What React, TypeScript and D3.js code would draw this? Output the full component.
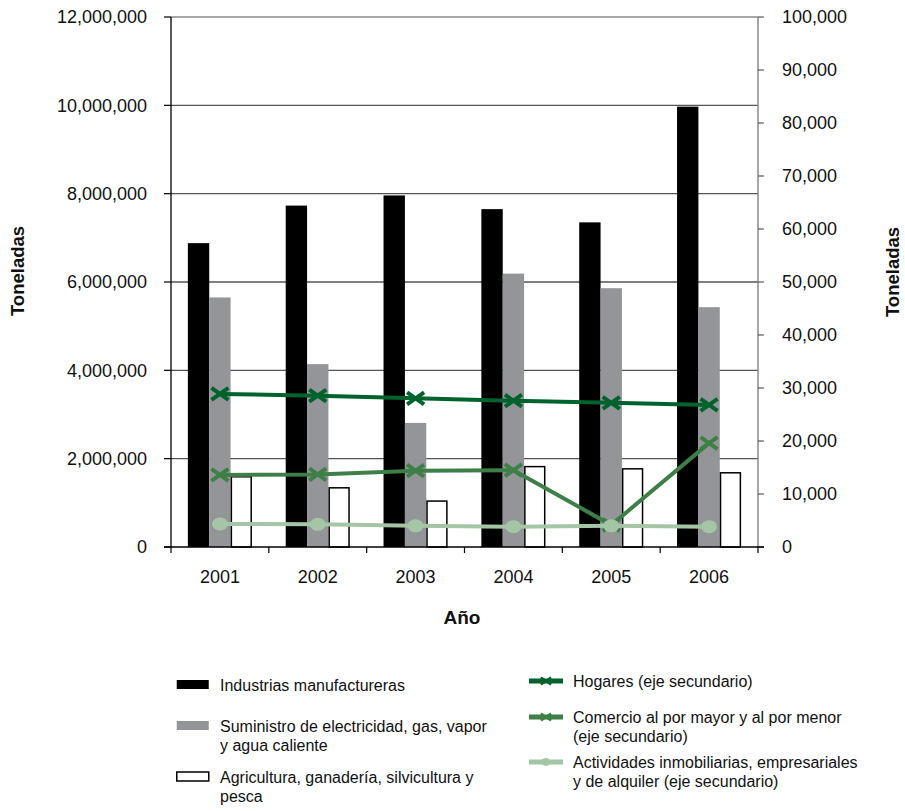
import React from "react";
import * as d3 from "d3";

const years = ["2001", "2002", "2003", "2004", "2005", "2006"];
const industrias = [6880000, 7730000, 7960000, 7650000, 7350000, 9970000];
const suministro = [5650000, 4140000, 2810000, 6190000, 5860000, 5430000];
const agricultura = [1590000, 1340000, 1040000, 1820000, 1770000, 1680000];
const hogares = [28870, 28550, 28050, 27600, 27200, 26800];
const comercio = [13600, 13700, 14400, 14500, 4150, 19600];
const actividades = [4340, 4280, 4000, 3830, 4000, 3830];
const leftTicks = [0, 2000000, 4000000, 6000000, 8000000, 10000000, 12000000];
const rightTicks = [0, 10000, 20000, 30000, 40000, 50000, 60000, 70000, 80000, 90000, 100000];

const barSeries = [
  { key: "ind", label: ["Industrias manufactureras"], values: industrias, fill: "#000000", stroke: "none" },
  { key: "sum", label: ["Suministro de electricidad, gas, vapor", "y agua caliente"], values: suministro, fill: "#939598", stroke: "none" },
  { key: "agr", label: ["Agricultura, ganadería, silvicultura y", "pesca"], values: agricultura, fill: "#ffffff", stroke: "#000000" },
];
const lineSeries = [
  { key: "hog", label: ["Hogares (eje secundario)"], values: hogares, color: "#00622c", marker: "x" },
  { key: "com", label: ["Comercio al por mayor y al por menor", "(eje secundario)"], values: comercio, color: "#3e7f48", marker: "x" },
  { key: "act", label: ["Actividades inmobiliarias, empresariales", "y de alquiler (eje secundario)"], values: actividades, color: "#a4c6a6", marker: "o" },
];

const FONT = "'Liberation Sans', Arial, sans-serif";

export default function App() {
  const L = 171, R = 758, T = 17, B = 547;
  const x = d3.scaleBand<string>().domain(years).range([L, R]).padding(0);
  const inner = d3.scaleBand<string>().domain(barSeries.map((s) => s.key)).range([0, x.bandwidth()]).paddingInner(0).paddingOuter(0.79);
  const yL = d3.scaleLinear().domain([0, 12000000]).range([B, T]);
  const yR = d3.scaleLinear().domain([0, 100000]).range([B, T]);
  const fmt = d3.format(",");
  const cx = (y: string) => (x(y) as number) + x.bandwidth() / 2;

  const marker = (m: string, color: string, px: number, py: number, k: string, scale = 1) =>
    m === "x" ? (
      <g key={k} stroke={color} strokeWidth={4 * scale} strokeLinecap="butt">
        <line x1={px - 8.5 * scale} y1={py - 6 * scale} x2={px + 8.5 * scale} y2={py + 6 * scale} />
        <line x1={px - 8.5 * scale} y1={py + 6 * scale} x2={px + 8.5 * scale} y2={py - 6 * scale} />
      </g>
    ) : (
      <ellipse key={k} cx={px} cy={py} rx={8 * scale} ry={6.5 * scale} fill={color} />
    );

  return (
    <svg width={905} height={811} style={{ position: "absolute", left: 0, top: 0, background: "#fff" }} fontFamily={FONT}>
      {/* gridlines */}
      {leftTicks.filter((t) => t > 0).map((t) => (
        <line key={"g" + t} x1={L} x2={R} y1={yL(t)} y2={yL(t)} stroke={t === 12000000 ? "#8a8a8a" : "#555"} strokeWidth={1.3} />
      ))}
      {/* bars */}
      {barSeries.map((s) =>
        s.values.map((v, i) => {
          const bx = (x(years[i]) as number) + (inner(s.key) as number);
          const w = inner.bandwidth();
          return s.stroke === "none" ? (
            <rect key={s.key + i} x={bx} y={yL(v)} width={w} height={B - yL(v)} fill={s.fill} />
          ) : (
            <rect key={s.key + i} x={bx + 0.75} y={yL(v)} width={w - 1.5} height={B - yL(v)} fill={s.fill} stroke={s.stroke} strokeWidth={1.5} />
          );
        })
      )}
      {/* left axis */}
      <line x1={L} x2={L} y1={T} y2={B} stroke="#000" strokeWidth={1.3} />
      {leftTicks.map((t) => (
        <g key={"lt" + t}>
          <line x1={L - 7} x2={L} y1={yL(t)} y2={yL(t)} stroke="#000" strokeWidth={1.2} />
          <text x={L - 24} y={yL(t)} dy="0.35em" textAnchor="end" fontSize={18} fill="#111">{fmt(t)}</text>
        </g>
      ))}
      {/* right axis */}
      <line x1={R} x2={R} y1={T} y2={B} stroke="#8a8a8a" strokeWidth={1.5} />
      {rightTicks.map((t) => (
        <g key={"rt" + t}>
          <line x1={R} x2={R + 6} y1={yR(t)} y2={yR(t)} stroke="#555" strokeWidth={1.2} />
          <text x={R + 24} y={yR(t)} dy="0.35em" textAnchor="start" fontSize={18} fill="#111">{fmt(t)}</text>
        </g>
      ))}
      {/* bottom axis */}
      <line x1={L - 7} x2={R + 6} y1={B} y2={B} stroke="#000" strokeWidth={1.3} />
      {years.map((y) => (
        <line key={"bt" + y} x1={x(y) as number} x2={x(y) as number} y1={B} y2={B + 6} stroke="#000" strokeWidth={1.2} />
      ))}
      <line x1={R} x2={R} y1={B} y2={B + 6} stroke="#000" strokeWidth={1.2} />
      {years.map((y) => (
        <text key={"yl" + y} x={cx(y)} y={577} dy="0.35em" textAnchor="middle" fontSize={18} fill="#111">{y}</text>
      ))}
      {/* lines */}
      {lineSeries.map((s) => {
        const path = d3.line<number>().x((_, i) => cx(years[i])).y((v) => yR(v))(s.values) as string;
        return (
          <g key={s.key}>
            <path d={path} fill="none" stroke={s.color} strokeWidth={4} />
            {s.values.map((v, i) => marker(s.marker, s.color, cx(years[i]), yR(v), s.key + "m" + i))}
          </g>
        );
      })}
      {/* axis titles */}
      <text x={462} y={617} dy="0.35em" textAnchor="middle" fontSize={19} fontWeight="bold" fill="#111">Año</text>
      <text transform="translate(18,271) rotate(-90)" dy="0.35em" textAnchor="middle" fontSize={18.5} fontWeight="bold" fill="#111">Toneladas</text>
      <text transform="translate(893,272) rotate(-90)" dy="0.35em" textAnchor="middle" fontSize={18.5} fontWeight="bold" fill="#111">Toneladas</text>
      {/* legend left */}
      {barSeries.map((s, i) => {
        const ys = [685, 726, 777][i];
        return (
          <g key={"lg" + s.key}>
            <rect x={176.75} y={ys - 5} width={32} height={9} fill={s.fill} stroke={s.stroke === "none" ? "none" : s.stroke} strokeWidth={1.5} />
            {s.label.map((l, j) => (
              <text key={j} x={220} y={ys + j * 19} dy="0.35em" fontSize={16} fill="#111">{l}</text>
            ))}
          </g>
        );
      })}
      {/* legend right */}
      {lineSeries.map((s, i) => {
        const ys = [681, 717, 762][i];
        return (
          <g key={"ll" + s.key}>
            <line x1={529} x2={563} y1={ys} y2={ys} stroke={s.color} strokeWidth={5} />
            {marker(s.marker, s.color, 546, ys, "lm" + s.key, 0.6)}
            {s.label.map((l, j) => (
              <text key={j} x={573} y={ys + j * 19} dy="0.35em" fontSize={16} fill="#111">{l}</text>
            ))}
          </g>
        );
      })}
    </svg>
  );
}
